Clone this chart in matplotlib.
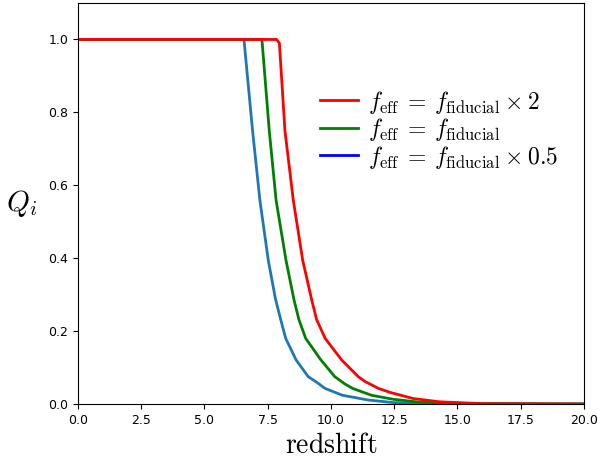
import matplotlib
matplotlib.use('agg')
import matplotlib.pyplot as plt
from matplotlib.lines import Line2D

plt.rcParams['mathtext.fontset'] = 'cm'

z_half = [0.0, 6.56, 6.90, 7.19, 7.52, 7.80, 8.00, 8.21, 8.62, 9.10, 9.43, 9.76, 10.45, 11.47, 12.45, 14.0, 20.0]
q_half = [1.0, 1.0, 0.75, 0.559, 0.395, 0.29, 0.235, 0.180, 0.121, 0.075, 0.060, 0.043, 0.024, 0.011, 0.004, 0.001, 0.0]

z_fid = [0.0, 7.27, 7.56, 7.83, 8.22, 8.54, 8.73, 9.00, 9.60, 10.15, 10.55, 10.85, 11.60, 12.46, 13.5, 15.0, 20.0]
q_fid = [1.0, 1.0, 0.75, 0.559, 0.395, 0.285, 0.232, 0.180, 0.121, 0.075, 0.055, 0.043, 0.024, 0.013, 0.005, 0.001, 0.0]

z_two = [0.0, 7.85, 7.96, 8.18, 8.51, 8.88, 9.24, 9.43, 9.77, 10.42, 11.08, 11.34, 11.87, 12.33, 13.25, 14.3, 16.0, 20.0]
q_two = [1.0, 1.0, 0.99, 0.75, 0.559, 0.395, 0.285, 0.232, 0.180, 0.121, 0.075, 0.062, 0.043, 0.032, 0.015, 0.006, 0.001, 0.0]

labels = [r'$f_{\rm eff}\:=\:f_{\rm fiducial}\:\times\:2$',
          r'$f_{\rm eff}\:=\:f_{\rm fiducial}$',
          r'$f_{\rm eff}\:=\:f_{\rm fiducial}\:\times\:0.5$']

fig = plt.figure(figsize=(5.98, 4.61), dpi=100)
ax = fig.add_axes([0.1304, 0.1236, 0.8462, 0.8699])

ax.plot(z_half, q_half, color='C0', lw=2)
ax.plot(z_fid, q_fid, color='green', lw=2)
ax.plot(z_two, q_two, color='red', lw=2)

ax.set_xlim(0, 20)
ax.set_ylim(0, 1.1)
ax.set_xticks([0, 2.5, 5, 7.5, 10, 12.5, 15, 17.5, 20])
ax.set_yticks([0, 0.2, 0.4, 0.6, 0.8, 1.0])
ax.tick_params(labelsize=9)

ax.set_xlabel(r'$\mathrm{redshift}$', fontsize=20, labelpad=3)
ax.set_ylabel(r'$Q_i$', fontsize=21, rotation=0, ha='center', va='center')
ax.yaxis.set_label_coords(-0.111, 0.5)

handles = [Line2D([], [], color='red', lw=2),
           Line2D([], [], color='green', lw=2),
           Line2D([], [], color='blue', lw=2)]
ax.legend(handles, labels, loc='upper left', bbox_to_anchor=(0.469, 0.798),
          frameon=False, fontsize=17, handlelength=1.6, handletextpad=0.45,
          labelspacing=0.02, borderpad=0.2, borderaxespad=0)

fig.savefig('out.png', dpi=100)
